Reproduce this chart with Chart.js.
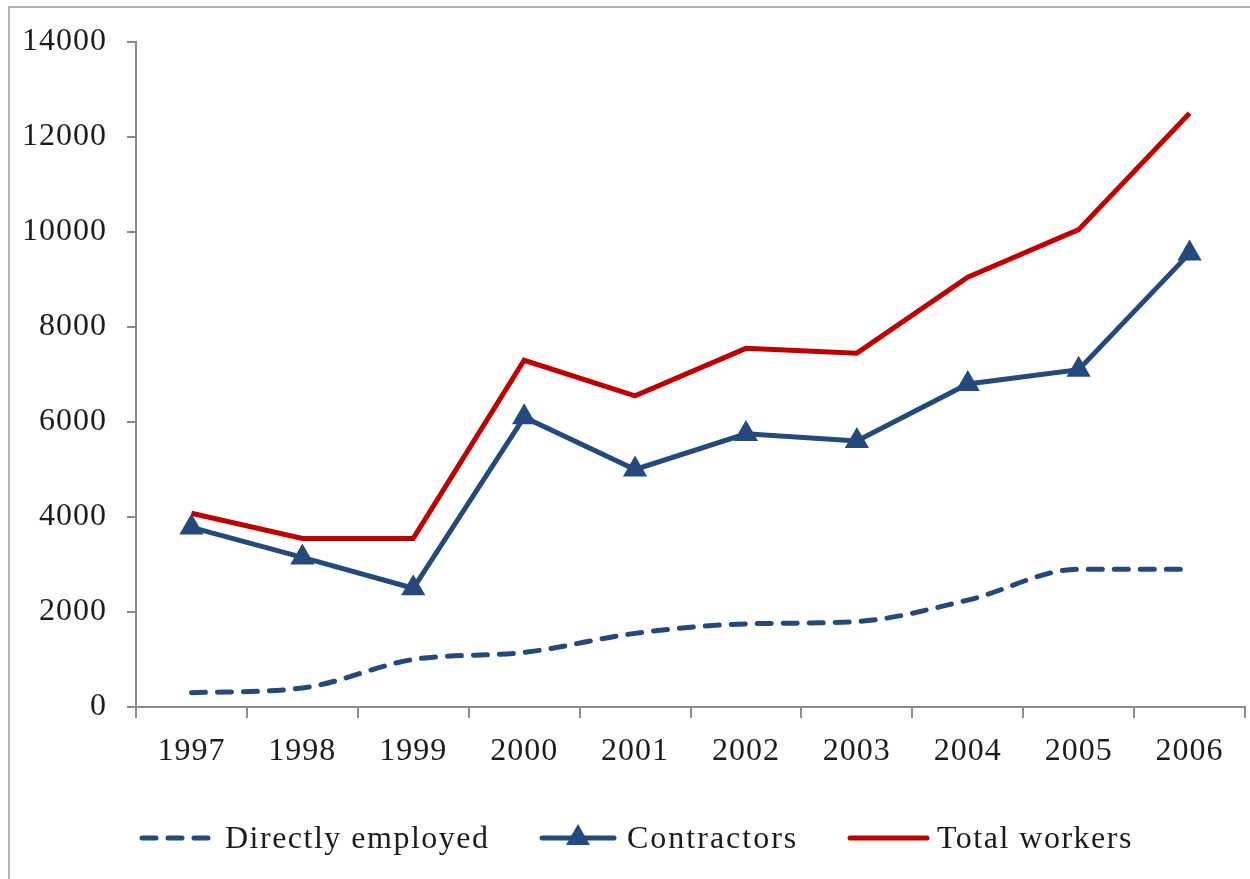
<!DOCTYPE html>
<html>
<head>
<meta charset="utf-8">
<script src="https://cdn.jsdelivr.net/npm/chart.js@4"></script>
<style>
  html, body { margin: 0; padding: 0; background: #fff; }
  canvas { display: block; }
</style>
</head>
<body>
<canvas id="chart" width="1250" height="879"></canvas>
<script>
// years and worker counts
const years = ['1997', '1998', '1999', '2000', '2001', '2002', '2003', '2004', '2005', '2006'];
const directlyEmployed = [300, 400, 1000, 1150, 1550, 1750, 1800, 2250, 2900, 2900];
const contractors = [3780, 3150, 2500, 6100, 5000, 5750, 5600, 6800, 7100, 9550];
const totalWorkers = [4080, 3550, 3550, 7300, 6550, 7550, 7450, 9050, 10050, 12500];
const yTicks = [0, 2000, 4000, 6000, 8000, 10000, 12000, 14000];
const seriesNames = ['Directly employed', 'Contractors', 'Total workers'];

const BLUE = '#23497d';
const RED = '#c00000';
const AXIS = '#8a8a8a';
const TEXT = '#1c1c1c';
const FONT = '"Liberation Serif", "DejaVu Serif", serif';

// letter spacing for the serif labels
const spacing = {
  id: 'spacing',
  beforeLayout(chart) { chart.ctx.letterSpacing = '1px'; },
  beforeDraw(chart) { chart.ctx.letterSpacing = '1px'; }
};

// outer frame and the legend along the bottom
const frame = {
  id: 'frame',
  afterDraw(chart) {
    const ctx = chart.ctx;
    ctx.save();
    ctx.strokeStyle = '#b4b4b4';
    ctx.lineWidth = 2;
    ctx.strokeRect(9, 7, 1400, 1000);

    const y = 838;
    ctx.lineCap = 'round';
    ctx.lineWidth = 5;

    // dashed sample
    ctx.strokeStyle = BLUE;
    ctx.setLineDash([14, 12]);
    ctx.beginPath(); ctx.moveTo(142, y); ctx.lineTo(212, y); ctx.stroke();
    ctx.setLineDash([]);

    // line with triangle
    ctx.beginPath(); ctx.moveTo(542, y); ctx.lineTo(614, y); ctx.stroke();
    ctx.fillStyle = BLUE;
    ctx.beginPath();
    ctx.moveTo(578, y - 14); ctx.lineTo(590, y + 7); ctx.lineTo(566, y + 7);
    ctx.closePath(); ctx.fill();

    // red sample
    ctx.strokeStyle = RED;
    ctx.beginPath(); ctx.moveTo(850, y); ctx.lineTo(927, y); ctx.stroke();

    ctx.fillStyle = TEXT;
    ctx.font = '32px ' + FONT;
    ctx.textBaseline = 'alphabetic';
    ctx.letterSpacing = '1.5px';
    ctx.fillText(seriesNames[0], 225, 848);
    ctx.letterSpacing = '2px';
    ctx.fillText(seriesNames[1], 627, 848);
    ctx.letterSpacing = '1.5px';
    ctx.fillText(seriesNames[2], 937, 848);
    ctx.restore();
  }
};

new Chart(document.getElementById('chart'), {
  type: 'line',
  data: {
    labels: years,
    datasets: [
      {
        label: seriesNames[0],
        data: directlyEmployed,
        borderColor: BLUE,
        borderWidth: 5,
        borderDash: [14, 12],
        borderCapStyle: 'round',
        cubicInterpolationMode: 'monotone',
        tension: 0.4,
        pointRadius: 0
      },
      {
        label: seriesNames[1],
        data: contractors,
        borderColor: BLUE,
        backgroundColor: BLUE,
        borderWidth: 5,
        tension: 0,
        pointStyle: 'triangle',
        pointRadius: 14,
        pointBorderWidth: 0,
        pointBackgroundColor: BLUE
      },
      {
        label: seriesNames[2],
        data: totalWorkers,
        borderColor: RED,
        borderWidth: 5,
        tension: 0,
        pointRadius: 0
      }
    ]
  },
  options: {
    responsive: false,
    animation: false,
    devicePixelRatio: 1,
    layout: { autoPadding: false, padding: { left: 0, right: 5, top: 42, bottom: 0 } },
    plugins: {
      legend: { display: false },
      tooltip: { enabled: false }
    },
    scales: {
      x: {
        type: 'category',
        offset: true,
        afterFit(scale) {
          scale.height = 172;
          scale.paddingLeft = 0;
          scale.paddingRight = 0;
        },
        grid: {
          offset: true,
          drawOnChartArea: false,
          drawTicks: true,
          tickLength: 11,
          color: AXIS,
          lineWidth: 2
        },
        border: { color: AXIS, width: 2 },
        ticks: {
          color: TEXT,
          padding: 14,
          maxRotation: 0,
          font: { family: FONT, size: 32 }
        }
      },
      y: {
        min: 0,
        max: 14000,
        afterFit(scale) { scale.width = 136; },
        afterBuildTicks(scale) { scale.ticks = yTicks.map(v => ({ value: v })); },
        grid: {
          drawOnChartArea: false,
          drawTicks: true,
          tickLength: 9,
          color: AXIS,
          lineWidth: 2
        },
        border: { color: AXIS, width: 2 },
        ticks: {
          color: TEXT,
          padding: 20,
          font: { family: FONT, size: 32 },
          callback: v => String(v)
        }
      }
    }
  },
  plugins: [spacing, frame]
});
</script>
</body>
</html>
